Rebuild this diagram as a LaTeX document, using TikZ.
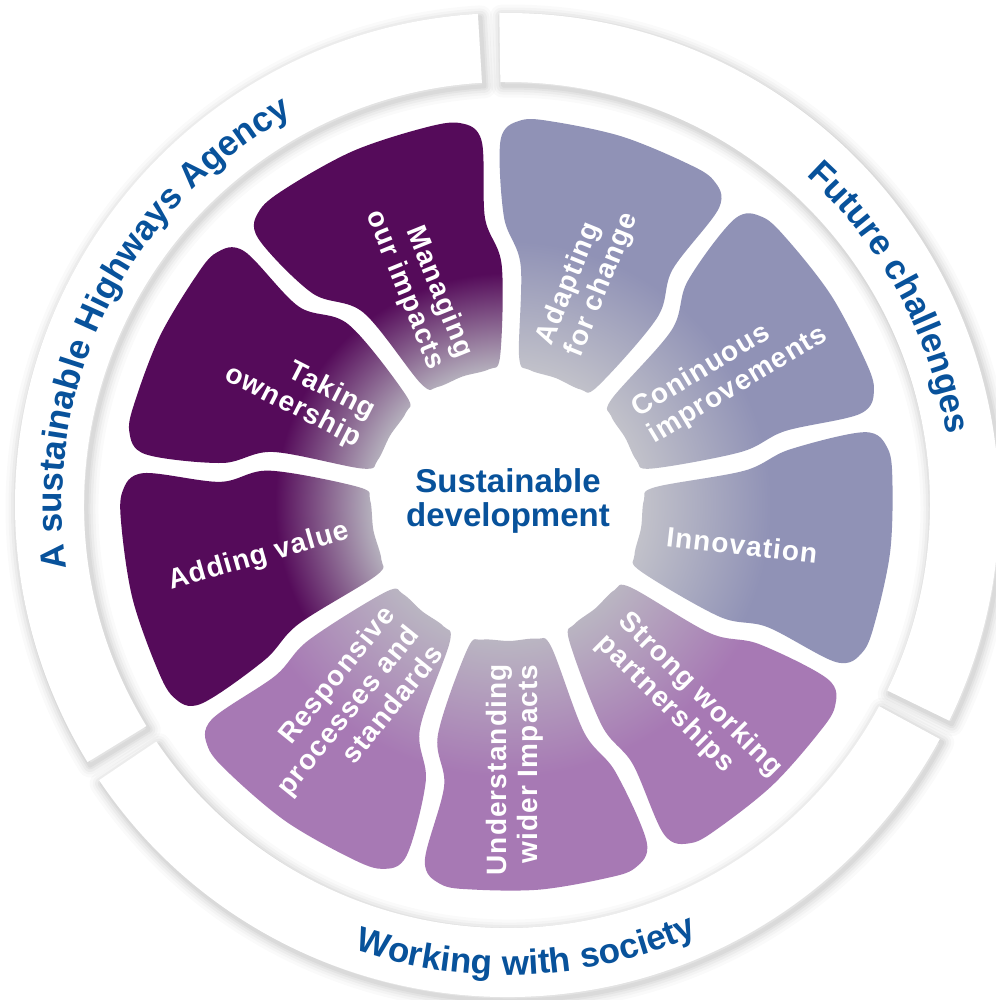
\documentclass[tikz,border=0pt]{standalone}
\usepackage{fontspec}
\setmainfont{Liberation Sans}
\newfontfamily\labfont[LetterSpace=4]{Liberation Sans}
\newfontfamily\ringfont[LetterSpace=2]{Liberation Sans}
\usetikzlibrary{decorations.text}
\definecolor{ringblue}{RGB}{8,82,155}
\definecolor{dkp}{RGB}{85,11,90}
\definecolor{dkpin}{RGB}{182,178,190}
\definecolor{bgr}{RGB}{144,146,182}
\definecolor{bgrin}{RGB}{194,194,202}
\definecolor{lpu}{RGB}{167,121,180}
\definecolor{lpuin}{RGB}{186,182,194}
\pgfdeclareradialshading{shdark}{\pgfpoint{0bp}{0bp}}{color(0bp)=(dkpin); color(8.4bp)=(dkpin); color(14.5bp)=(dkp); color(50bp)=(dkp)}
\pgfdeclareradialshading{shblue}{\pgfpoint{0bp}{0bp}}{color(0bp)=(bgrin); color(8.4bp)=(bgrin); color(16.5bp)=(bgr); color(50bp)=(bgr)}
\pgfdeclareradialshading{shlight}{\pgfpoint{0bp}{0bp}}{color(0bp)=(lpuin); color(8.4bp)=(lpuin); color(17bp)=(lpu); color(50bp)=(lpu)}
\newcommand\ringtext{\ringfont\fontsize{35}{42}\selectfont\bfseries\color{ringblue}}
\begin{document}
\begin{tikzpicture}[x=1pt,y=-1pt,
  lab/.style={text=white, font=\labfont\bfseries\fontsize{28}{31}\selectfont, inner sep=0pt},
  ctext/.style={text=ringblue, font=\bfseries\fontsize{33}{34}\selectfont, inner sep=0pt, align=center},
  ringshadow/.style={draw=black, line join=round}]
\useasboundingbox (0,0) rectangle (995,1000);
\fill[white] (0,0) rectangle (995,1000);
\begin{scope}[shift={(507,505)}, y=1pt]
  % ring shadows
  \foreach \s/\e in {93.4/211.5, -26/90.9, 214/331.6} {
    \foreach \w/\o in {24/0.02, 18/0.025, 13/0.03, 8/0.035, 4/0.04} {
      \draw[ringshadow, shift={(2.5,-3.5)}, line width=\w pt, draw opacity=\o]
        (\s:492) arc[start angle=\s, end angle=\e, radius=492] -- (\e:423)
        arc[start angle=\e, end angle=\s, radius=423] -- cycle;
    }
  }
  % ring bands
  \foreach \s/\e in {93.4/211.5, -26/90.9, 214/331.6} {
    \fill[white] (\s:492) arc[start angle=\s, end angle=\e, radius=492] -- (\e:423)
      arc[start angle=\e, end angle=\s, radius=423] -- cycle;
  }
  % segments
  \foreach \ai/\bi/\aii/\bii/\sh in {
      89/92.5/129/134.5/shdark,
      129/134.5/169.5/173.5/shdark,
      169.5/173.5/212/214.5/shdark,
      212/214.5/251/255.5/shlight,
      251/255.5/291/294/shlight,
      291/294/330/333/shlight,
      -30/-27/10.5/13/shblue,
      10.5/13/49/53/shblue,
      49/53/89/92.5/shblue} {
    \pgfmathsetmacro\mi{(\ai+\aii)/2}
    \pgfmathsetmacro\mo{(\bi+\bii)/2}
    \pgfmathsetmacro\qa{(3*\bi+\bii)/4}
    \pgfmathsetmacro\qb{(\bi+3*\bii)/4}
    \begin{scope}
      \clip plot[smooth cycle, tension=0.55] coordinates {
        ({\ai+3.65}:149) ({\ai+8.5}:137) (\mi:136) ({\aii-8.5}:137) ({\aii-3.65}:149)
        ({\aii-2.27}:240) ({\bii-1.89}:288) ({\bii-1.49}:365) ({\bii-4.6}:385)
        (\qb:386) (\mo:386) (\qa:386)
        ({\bi+4.6}:385) ({\bi+1.49}:365) ({\bi+1.89}:288) ({\ai+2.27}:240)};
      \shade[shading=\sh] (0,0) circle[radius=400];
    \end{scope}
  }
  % ring texts
  \path[decorate, decoration={text along path, text align=center,
      text={|\ringtext|A sustainable Highways Agency}}]
    (203.5:445) arc[start angle=203.5, end angle=103.5, radius=445];
  \path[decorate, decoration={text along path, text align=center,
      text={|\ringtext|Future challenges}}]
    (58.4:445) arc[start angle=58.4, end angle=-1.6, radius=445];
  \path[decorate, decoration={text along path, text align=center,
      text={|\ringtext|Working with society}}]
    (242.5:470) arc[start angle=242.5, end angle=302.5, radius=470];
\end{scope}
% labels
\node[lab, rotate=-68, align=right] (managing) at (419,284) {Managing\\our impacts};
\node[lab, rotate=68, align=left] (adapting) at (588,279) {Adapting\\for change};
\node[lab, rotate=31, align=left] (continuous) at (730,372) {Coninuous\\improvements};
\node[lab, rotate=-6.5] (innovation) at (742,545) {Innovation};
\node[lab, rotate=-45, align=left] (strong) at (689,706) {Strong working\\partnerships};
\node[lab, rotate=90, align=right] (understanding) at (515,770) {Understanding\\wider Impacts};
\node[lab, rotate=51, align=right] (responsive) at (347,710) {Responsive\\processes and\\standards};
\node[lab, rotate=16] (adding) at (259,557) {Adding value};
\node[lab, rotate=-27, align=right] (taking) at (300,393) {Taking\\ownership};
\node[ctext] (center) at (508,501) {Sustainable\\development};
\end{tikzpicture}
\end{document}
